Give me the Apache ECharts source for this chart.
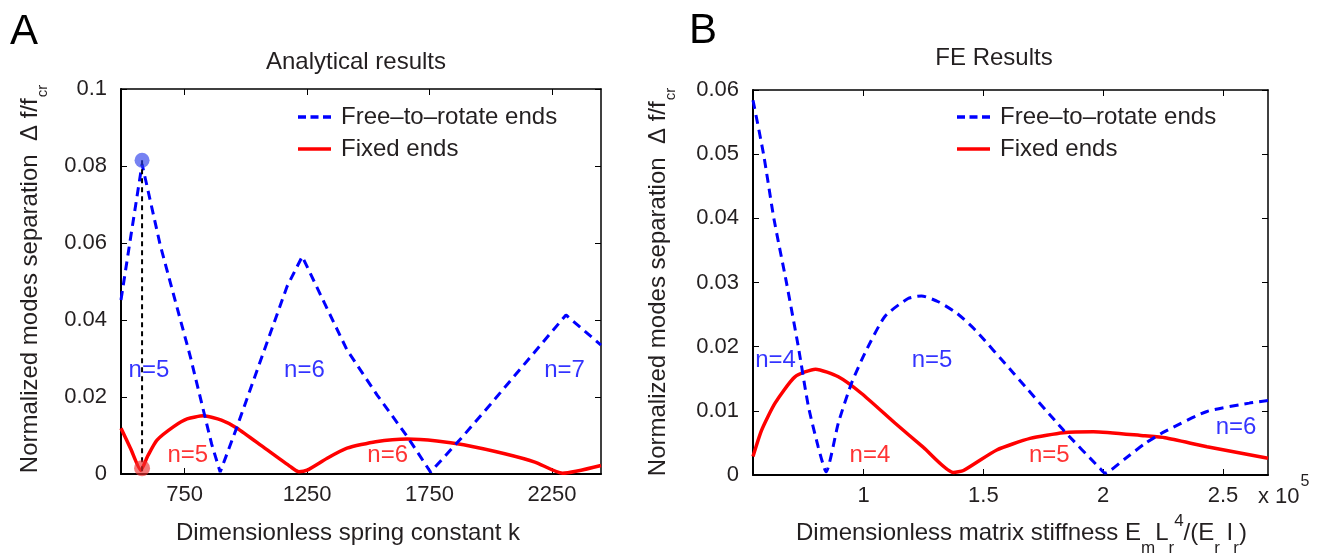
<!DOCTYPE html>
<html>
<head>
<meta charset="utf-8">
<script src="https://cdn.jsdelivr.net/npm/echarts@6/dist/echarts.min.js"></script>
<style>html,body{margin:0;padding:0;background:#fff}#c{width:1321px;height:560px}</style>
</head>
<body>
<div id="c"></div>
<script>
// ---------- Panel A: Analytical results (x = dimensionless spring constant k) ----------
const aFreeK = [490, 527, 576, 650, 773, 860, 895, 964, 1060, 1168, 1230, 1320, 1413, 1536, 1659, 1754, 1889, 2000, 2150, 2307, 2450];
const aFreeV = [0.0452, 0.0605, 0.0805, 0.0595, 0.0305, 0.0078, 0.0005, 0.0123, 0.0295, 0.0487, 0.0565, 0.0445, 0.0322, 0.0205, 0.0097, 0.0005, 0.0100, 0.0182, 0.0295, 0.0413, 0.0335];
const aFixK = [490, 530, 571, 600, 637, 705, 760, 827, 900, 964, 1073, 1182, 1216, 1250, 1332, 1413, 1530, 1659, 1780, 1889, 2061, 2180, 2293, 2450];
const aFixV = [0.0119, 0.0065, 0.0010, 0.0048, 0.0088, 0.0123, 0.0143, 0.0151, 0.0140, 0.0119, 0.0069, 0.0019, 0.0006, 0.0010, 0.0041, 0.0067, 0.0084, 0.0091, 0.0086, 0.0076, 0.0052, 0.0031, 0.0002, 0.0022];
const aMarkK = 576;
const aMarkFree = 0.0815;
const aMarkFix = 0.0015;
const aFreeLabels = [[604, 0.027, 'n=5'], [1239, 0.027, 'n=6'], [2301, 0.027, 'n=7']];
const aFixLabels = [[763, 0.0049, 'n=5'], [1579, 0.0049, 'n=6']];
const aXTicks = [750, 1250, 1750, 2250];
const aXRange = [490, 2450];
const aYRange = [0, 0.1, 0.02];

// ---------- Panel B: FE results (x = matrix stiffness, in units of 10^5) ----------
const bFreeX = [0.539, 0.583, 0.626, 0.679, 0.728, 0.770, 0.811, 0.844, 0.895, 0.950, 1.006, 1.089, 1.186, 1.242, 1.312, 1.390, 1.466, 1.625, 1.834, 1.987, 2.007, 2.090, 2.174, 2.258, 2.433, 2.609, 2.6875];
const bFreeV = [0.0584, 0.0500, 0.0400, 0.0299, 0.0200, 0.0107, 0.0044, 0.0005, 0.0081, 0.0143, 0.0190, 0.0247, 0.0275, 0.0279, 0.0270, 0.0252, 0.0226, 0.0159, 0.0070, 0.0010, 0.0003, 0.0025, 0.0049, 0.0068, 0.0099, 0.0112, 0.0116];
const bFixX = [0.539, 0.575, 0.631, 0.714, 0.800, 0.895, 0.992, 1.131, 1.250, 1.375, 1.417, 1.556, 1.695, 1.834, 1.959, 2.174, 2.258, 2.433, 2.6875];
const bFixV = [0.0029, 0.0070, 0.0112, 0.0153, 0.0165, 0.0153, 0.0127, 0.0081, 0.0043, 0.0004, 0.0007, 0.0039, 0.0057, 0.0066, 0.00675, 0.0061, 0.0058, 0.0044, 0.0026];
const bFreeLabels = [[0.633, 0.0178, 'n=4'], [1.286, 0.0178, 'n=5'], [2.554, 0.0074, 'n=6']];
const bFixLabels = [[1.027, 0.0031, 'n=4'], [1.775, 0.0031, 'n=5']];
const bXTicks = [1, 1.5, 2, 2.5];
const bXRange = [0.539, 2.6875];
const bYRange = [0, 0.06, 0.01];

const NAME_FREE = 'Free\u2013to\u2013rotate ends';
const NAME_FIX = 'Fixed ends';
const TXT = '#231f20';
const FONT = '"Liberation Sans", Arial, sans-serif';
const BLUE = '#0000ff';
const RED = '#ff0000';

function zip(a, b) { return a.map((v, i) => [v, b[i]]); }
function fmt(v) { return String(parseFloat(v.toFixed(4))); }

function xAxisPair(grid, range, ticks) {
  const base = {
    gridIndex: grid, type: 'value', min: range[0], max: range[1],
    splitLine: { show: false },
    axisLine: { onZero: false, lineStyle: { color: '#000', width: 2 } },
    axisTick: { inside: true, length: 6, customValues: ticks, lineStyle: { color: '#000', width: 1 } }
  };
  return [
    Object.assign({}, base, { position: 'bottom',
      axisLabel: { customValues: ticks, fontSize: 22, color: TXT, fontFamily: FONT, margin: 10, formatter: fmt } }),
    Object.assign({}, base, { position: 'top', axisLine: { onZero: false, lineStyle: { color: '#000', width: 1.5 } },
      axisLabel: { show: false } })
  ];
}
function yAxisPair(grid, range) {
  const base = {
    gridIndex: grid, type: 'value', min: range[0], max: range[1], interval: range[2],
    splitLine: { show: false },
    axisLine: { show: true, onZero: false, lineStyle: { color: '#000', width: 2 } },
    axisTick: { show: true, inside: true, length: 6, lineStyle: { color: '#000', width: 1 } }
  };
  return [
    Object.assign({}, base, { position: 'left',
      axisLabel: { fontSize: 22, color: TXT, fontFamily: FONT, margin: 14, formatter: fmt } }),
    Object.assign({}, base, { position: 'right', axisLine: { show: true, onZero: false, lineStyle: { color: '#000', width: 1.5 } },
      axisLabel: { show: false } })
  ];
}
function curve(name, xi, yi, data, color, dashed, smooth) {
  return {
    name: name, type: 'line', xAxisIndex: xi, yAxisIndex: yi, data: data,
    symbol: 'none', showSymbol: false, smooth: smooth, silent: true, z: dashed ? 3 : 2,
    lineStyle: { color: color, width: dashed ? 3 : 3.5, type: dashed ? [9, 6] : 'solid' },
    itemStyle: { color: color }
  };
}
function labels(xi, yi, data, color) {
  return {
    type: 'scatter', xAxisIndex: xi, yAxisIndex: yi, data: data, symbolSize: 0, silent: true, z: 6,
    label: { show: true, position: 'inside', formatter: p => p.data[2], color: color, fontSize: 24, fontFamily: FONT }
  };
}

const xA = xAxisPair(0, aXRange, aXTicks);
const xB = xAxisPair(1, bXRange, bXTicks);
const yA = yAxisPair(0, aYRange);
const yB = yAxisPair(1, bYRange);

const ICON_DASH = 'path://M0,0h8v3.4h-8z M12.5,0h8v3.4h-8z M25,0h8v3.4h-8z';
const legendBase = {
  data: [
    { name: NAME_FREE, icon: ICON_DASH, itemStyle: { color: BLUE } },
    { name: NAME_FIX, icon: 'rect', itemStyle: { color: RED } }
  ],
  orient: 'vertical', itemWidth: 33, itemHeight: 3.4, itemGap: 8,
  selectedMode: false, textStyle: { fontSize: 24, color: TXT, fontFamily: FONT, padding: [0, 0, 0, 5] }
};

const yName = '{t|Normalized modes separation  \u0394 f/f}{sub|cr}';
const yRich = {
  t: { fontSize: 24, fontFamily: FONT, fill: TXT, color: TXT, lineHeight: 24 },
  sub: { fontSize: 15, fontFamily: FONT, fill: TXT, color: TXT, lineHeight: 15, padding: [26, 0, 0, 1] }
};

const option = {
  backgroundColor: '#ffffff',
  animation: false,
  grid: [
    { left: 121, top: 89, width: 480, height: 385 },
    { left: 753, top: 90, width: 515, height: 385 }
  ],
  xAxis: [xA[0], xA[1], xB[0], xB[1]],
  yAxis: [yA[0], yA[1], yB[0], yB[1]],
  legend: [
    Object.assign({}, legendBase, { left: 293, top: 100 }),
    Object.assign({}, legendBase, { left: 952, top: 100 })
  ],
  series: [
    curve(NAME_FREE, 0, 0, zip(aFreeK, aFreeV), BLUE, true, false),
    curve(NAME_FIX, 0, 0, zip(aFixK, aFixV), RED, false, 0.2),
    {
      name: 'guide', type: 'line', xAxisIndex: 0, yAxisIndex: 0, symbol: 'none', silent: true, z: 4,
      data: [[aMarkK, aMarkFree], [aMarkK, 0]],
      lineStyle: { color: '#000', width: 2, type: [5, 4] }
    },
    { name: 'markFree', type: 'scatter', xAxisIndex: 0, yAxisIndex: 0, data: [[aMarkK, aMarkFree]], symbolSize: 15, z: 5, silent: true,
      itemStyle: { color: 'rgba(40,60,235,0.8)' } },
    { name: 'markFix', type: 'scatter', xAxisIndex: 0, yAxisIndex: 0, data: [[aMarkK, aMarkFix]], symbolSize: 16, z: 5, silent: true,
      itemStyle: { color: 'rgba(240,45,45,0.8)' } },
    labels(0, 0, aFreeLabels, BLUE),
    labels(0, 0, aFixLabels, RED),
    curve(NAME_FREE, 2, 2, zip(bFreeX, bFreeV), BLUE, true, 0.2),
    curve(NAME_FIX, 2, 2, zip(bFixX, bFixV), RED, false, 0.2),
    labels(2, 2, bFreeLabels, BLUE),
    labels(2, 2, bFixLabels, RED)
  ],
  graphic: [
    { type: 'text', x: 10, y: 32, style: { text: 'A', fontSize: 42, fontFamily: FONT, fill: '#000', align: 'left', verticalAlign: 'middle' } },
    { type: 'text', x: 689, y: 31, style: { text: 'B', fontSize: 42, fontFamily: FONT, fill: '#000', align: 'left', verticalAlign: 'middle' } },
    { type: 'text', x: 356, y: 62, style: { text: 'Analytical results', fontSize: 24, fontFamily: FONT, fill: TXT, align: 'center', verticalAlign: 'middle' } },
    { type: 'text', x: 994, y: 58, style: { text: 'FE Results', fontSize: 24, fontFamily: FONT, fill: TXT, align: 'center', verticalAlign: 'middle' } },
    { type: 'text', x: 348, y: 533, style: { text: 'Dimensionless spring constant k', fontSize: 24, fontFamily: FONT, fill: TXT, align: 'center', verticalAlign: 'middle' } },
    { type: 'text', x: 796, y: 533, style: {
        text: '{t|Dimensionless matrix stiffness E}{sub|m}{t|L}{sub|r}{sup|4}{t|/(E}{sub|r}{t| I}{sub|r}{t|)}',
        align: 'left', verticalAlign: 'middle',
        rich: {
          t: { fontSize: 24, fontFamily: FONT, fill: TXT, color: TXT, lineHeight: 24 },
          sub: { fontSize: 17, fontFamily: FONT, fill: TXT, color: TXT, lineHeight: 17, padding: [30, 0, 0, 0] },
          sup: { fontSize: 17, fontFamily: FONT, fill: TXT, color: TXT, lineHeight: 17, padding: [0, 0, 24, 0] }
        } } },
    { type: 'text', x: 1258, y: 497, style: {
        text: '{t|x 10}{sup|5}', align: 'left', verticalAlign: 'middle',
        rich: {
          t: { fontSize: 22, fontFamily: FONT, fill: TXT, color: TXT, lineHeight: 22 },
          sup: { fontSize: 16, fontFamily: FONT, fill: TXT, color: TXT, lineHeight: 16, padding: [0, 0, 30, 1] }
        } } },
    { type: 'text', x: 30, y: 279, rotation: Math.PI / 2, style: { text: yName, rich: yRich, align: 'center', verticalAlign: 'middle' } },
    { type: 'text', x: 658, y: 282, rotation: Math.PI / 2, style: { text: yName, rich: yRich, align: 'center', verticalAlign: 'middle' } }
  ]
};

const chart = echarts.init(document.getElementById('c'), null, { renderer: 'canvas' });
chart.setOption(option);
</script>
</body>
</html>
